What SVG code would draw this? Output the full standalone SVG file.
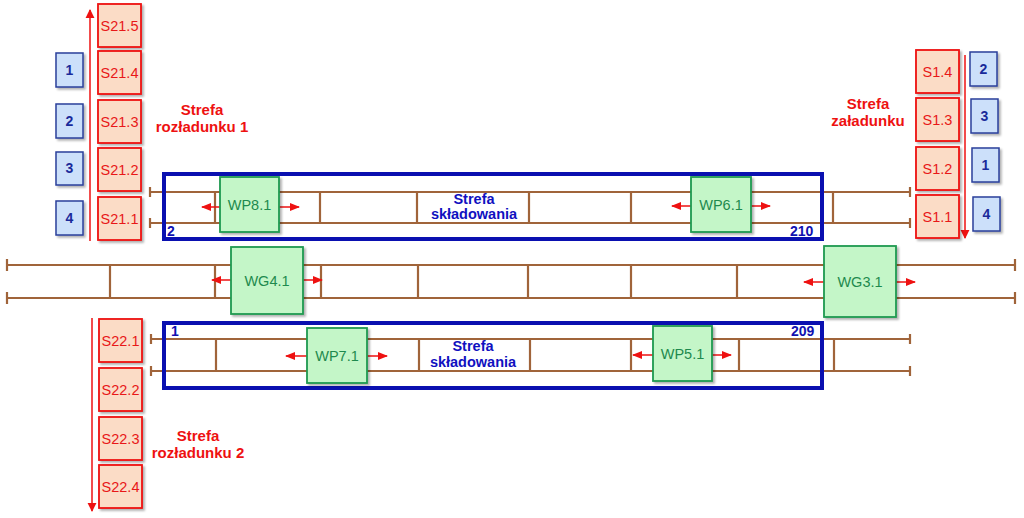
<svg xmlns="http://www.w3.org/2000/svg" width="1024" height="518" viewBox="0 0 1024 518">
<defs>
<filter id="sh" x="-20%" y="-20%" width="150%" height="150%"><feDropShadow dx="2" dy="2" stdDeviation="1.2" flood-color="#000" flood-opacity="0.3"/></filter>
<marker id="ah" viewBox="0 0 10 10" refX="9" refY="5" markerWidth="10" markerHeight="10" markerUnits="userSpaceOnUse" orient="auto"><path d="M0,1 L10,5 L0,9 z" fill="#ee1111"/></marker>
<marker id="ahb" viewBox="0 0 10 10" refX="9" refY="5" markerWidth="9" markerHeight="12" markerUnits="userSpaceOnUse" orient="auto"><path d="M0,0 L10,5 L0,10 z" fill="#ee1111"/></marker>
</defs>
<style>
.rail{stroke:#a0643a;stroke-width:2.2;fill:none}
.blk{fill:none;stroke:#0a10b0;stroke-width:4}
.sb{fill:#fbdcc6;stroke:#ee1111;stroke-width:1.8;filter:url(#sh)}
.bb{fill:#cce0fa;stroke:#2a3f9a;stroke-width:1.5;filter:url(#sh)}
.gb{fill:#c4f6c8;stroke:#1f9a50;stroke-width:1.8;filter:url(#sh)}
.st{font-family:"Liberation Sans",Arial,sans-serif;font-size:14.5px;fill:#e81818;text-anchor:middle}
.gt{font-family:"Liberation Sans",Arial,sans-serif;font-size:14.5px;fill:#1e8a4e;text-anchor:middle}
.bt{font-family:"Liberation Sans",Arial,sans-serif;font-size:14px;font-weight:bold;fill:#1a2a9a;text-anchor:middle}
.zr{font-family:"Liberation Sans",Arial,sans-serif;font-size:15px;font-weight:bold;fill:#ee1111;text-anchor:middle}
.zb{font-family:"Liberation Sans",Arial,sans-serif;font-size:14.5px;font-weight:bold;fill:#1010c0;text-anchor:middle}
.nb{font-family:"Liberation Sans",Arial,sans-serif;font-size:14px;font-weight:bold;fill:#1010b0}
.ra{stroke:#ee1111;stroke-width:1.5;fill:none}
.pa{stroke:#ee1111;stroke-width:1.5;fill:none;marker-end:url(#ah)}
</style>
<rect width="1024" height="518" fill="#fff"/>

<g id="connectors">
<path class="rail" d="M150,192 H910 M150,223 H910 M150,187 V197 M150,218 V228 M910,187 V197 M910,218 V228 M215,192 V223 M320,192 V223 M417,192 V223 M529,192 V223 M631,192 V223 M833,192 V223"/>
<path class="rail" d="M7,265 H1015 M7,298 H1015 M7,259 V271 M7,292 V304 M1015,259 V271 M1015,292 V304 M110,265 V298 M215,265 V298 M321,265 V298 M418,265 V298 M528,265 V298 M631,265 V298 M737,265 V298"/>
<path class="rail" d="M151,339 H910 M151,371 H910 M151,334 V344 M151,366 V376 M910,334 V344 M910,366 V376 M216,339 V371 M419,339 V371 M530,339 V371 M631,339 V371 M739,339 V371 M834,339 V371"/>
<line class="ra" x1="90" y1="241" x2="90" y2="10" marker-end="url(#ahb)"/>
<line class="ra" x1="92" y1="318" x2="92" y2="511" marker-end="url(#ahb)"/>
<line class="ra" x1="965" y1="55" x2="965" y2="238" marker-end="url(#ahb)"/>
<line class="pa" x1="220" y1="207" x2="202" y2="207"/>
<line class="pa" x1="279" y1="207" x2="299" y2="207"/>
<line class="pa" x1="691" y1="206" x2="672" y2="206"/>
<line class="pa" x1="751" y1="206" x2="770" y2="206"/>
<line class="pa" x1="231" y1="280" x2="212" y2="280"/>
<line class="pa" x1="303" y1="280" x2="322" y2="280"/>
<line class="pa" x1="824" y1="282" x2="804" y2="282"/>
<line class="pa" x1="896" y1="282" x2="915" y2="282"/>
<line class="pa" x1="307" y1="356" x2="286" y2="356"/>
<line class="pa" x1="367" y1="356" x2="387" y2="356"/>
<line class="pa" x1="653" y1="355" x2="633" y2="355"/>
<line class="pa" x1="712" y1="355" x2="731" y2="355"/>
</g>

<g id="zone-top">
<rect class="blk" x="164" y="174" width="658" height="65"/>
<text class="zb" x="474" y="204">Strefa</text>
<text class="zb" x="474" y="219">składowania</text>
<text class="nb" x="167" y="236">2</text>
<text class="nb" x="790" y="236">210</text>
</g>
<g id="zone-bottom">
<rect class="blk" x="164" y="323" width="658" height="65"/>
<text class="zb" x="473" y="351">Strefa</text>
<text class="zb" x="473" y="367">składowania</text>
<text class="nb" x="171" y="336">1</text>
<text class="nb" x="791" y="336">209</text>
</g>

<g id="S21.5"><rect class="sb" x="98" y="4" width="43" height="43"/><text class="st" x="119.5" y="31">S21.5</text></g>
<g id="S21.4"><rect class="sb" x="98" y="51" width="43" height="43"/><text class="st" x="119.5" y="78">S21.4</text></g>
<g id="S21.3"><rect class="sb" x="98" y="100" width="43" height="43"/><text class="st" x="119.5" y="127">S21.3</text></g>
<g id="S21.2"><rect class="sb" x="98" y="148" width="43" height="43"/><text class="st" x="119.5" y="175">S21.2</text></g>
<g id="S21.1"><rect class="sb" x="98" y="197" width="43" height="43"/><text class="st" x="119.5" y="224">S21.1</text></g>

<g id="L1"><rect class="bb" x="56" y="53" width="27" height="34"/><text class="bt" x="69.5" y="75">1</text></g>
<g id="L2"><rect class="bb" x="56" y="104" width="27" height="34"/><text class="bt" x="69.5" y="126">2</text></g>
<g id="L3"><rect class="bb" x="56" y="152" width="27" height="33"/><text class="bt" x="69.5" y="173">3</text></g>
<g id="L4"><rect class="bb" x="56" y="201" width="27" height="34"/><text class="bt" x="69.5" y="223">4</text></g>

<g id="zone-unload1"><text class="zr" x="202" y="115">Strefa</text><text class="zr" x="202" y="132">rozładunku 1</text></g>

<g id="S22.1"><rect class="sb" x="99" y="319" width="43" height="43"/><text class="st" x="120.5" y="346">S22.1</text></g>
<g id="S22.2"><rect class="sb" x="99" y="368" width="43" height="43"/><text class="st" x="120.5" y="395">S22.2</text></g>
<g id="S22.3"><rect class="sb" x="99" y="417" width="43" height="43"/><text class="st" x="120.5" y="444">S22.3</text></g>
<g id="S22.4"><rect class="sb" x="99" y="465" width="43" height="43"/><text class="st" x="120.5" y="492">S22.4</text></g>

<g id="zone-unload2"><text class="zr" x="198" y="441">Strefa</text><text class="zr" x="198" y="458">rozładunku 2</text></g>

<g id="S1.4"><rect class="sb" x="916" y="50" width="43" height="43"/><text class="st" x="937.5" y="77">S1.4</text></g>
<g id="S1.3"><rect class="sb" x="916" y="98" width="43" height="43"/><text class="st" x="937.5" y="125">S1.3</text></g>
<g id="S1.2"><rect class="sb" x="916" y="147" width="43" height="43"/><text class="st" x="937.5" y="174">S1.2</text></g>
<g id="S1.1"><rect class="sb" x="916" y="195" width="43" height="43"/><text class="st" x="937.5" y="222">S1.1</text></g>

<g id="R2"><rect class="bb" x="970" y="52" width="27" height="34"/><text class="bt" x="983.5" y="74">2</text></g>
<g id="R3"><rect class="bb" x="971" y="99" width="27" height="34"/><text class="bt" x="984.5" y="121">3</text></g>
<g id="R1"><rect class="bb" x="972" y="148" width="27" height="34"/><text class="bt" x="985.5" y="170">1</text></g>
<g id="R4"><rect class="bb" x="973" y="197" width="27" height="34"/><text class="bt" x="986.5" y="219">4</text></g>

<g id="zone-load"><text class="zr" x="868" y="109">Strefa</text><text class="zr" x="868" y="126">załadunku</text></g>

<g id="WP8.1"><rect class="gb" x="220" y="177" width="59" height="55"/><text class="gt" x="249.5" y="210">WP8.1</text></g>
<g id="WP6.1"><rect class="gb" x="691" y="177" width="60" height="55"/><text class="gt" x="721" y="210">WP6.1</text></g>
<g id="WG4.1"><rect class="gb" x="231" y="247" width="72" height="67"/><text class="gt" x="267" y="286">WG4.1</text></g>
<g id="WG3.1"><rect class="gb" x="824" y="246" width="72" height="71"/><text class="gt" x="860" y="287">WG3.1</text></g>
<g id="WP7.1"><rect class="gb" x="307" y="328" width="60" height="55"/><text class="gt" x="337" y="361">WP7.1</text></g>
<g id="WP5.1"><rect class="gb" x="653" y="326" width="59" height="55"/><text class="gt" x="682.5" y="359">WP5.1</text></g>
</svg>
